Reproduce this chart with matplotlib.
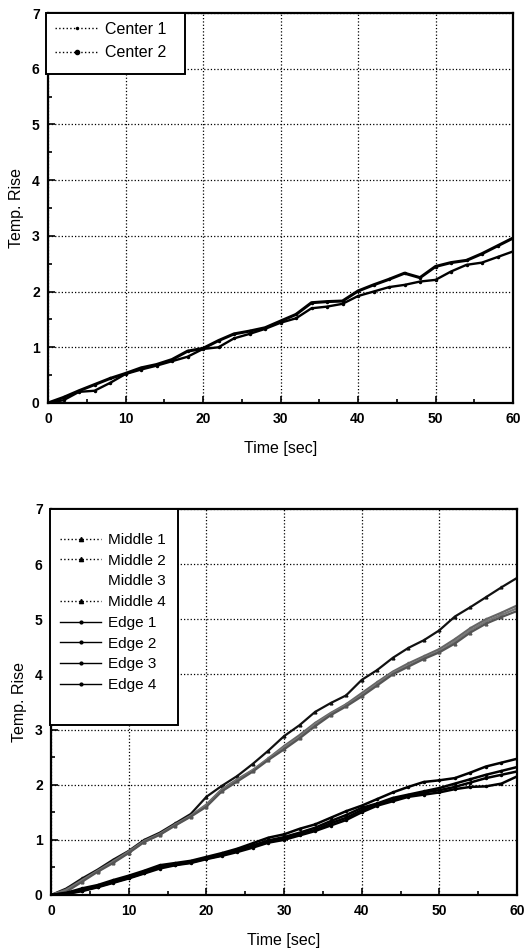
import numpy as np
import matplotlib
matplotlib.use("Agg")
import matplotlib.pyplot as plt
from matplotlib.lines import Line2D
from matplotlib.patches import Rectangle
from matplotlib.ticker import MultipleLocator

plt.rcParams['font.family'] = ['Liberation Sans', 'DejaVu Sans']

# time axis (sec)
t = np.arange(0, 61, 2)

# top chart: center points
center_1 = [0.00, 0.10, 0.22, 0.33, 0.44, 0.53, 0.63, 0.69, 0.78, 0.93, 0.98,
            1.12, 1.24, 1.29, 1.35, 1.47, 1.59, 1.80, 1.82, 1.83, 2.01,
            2.12, 2.22, 2.33, 2.25, 2.45, 2.52, 2.56, 2.68, 2.82, 2.96]
center_2 = [0.00, 0.05, 0.20, 0.22, 0.36, 0.52, 0.60, 0.67, 0.75, 0.83, 0.97,
            1.00, 1.16, 1.24, 1.33, 1.44, 1.52, 1.70, 1.73, 1.78, 1.92,
            2.00, 2.08, 2.12, 2.18, 2.21, 2.36, 2.48, 2.52, 2.62, 2.72]

# bottom chart: middle points
middle_1 = [0.00, 0.12, 0.30, 0.46, 0.64, 0.80, 1.00, 1.13, 1.30, 1.47, 1.78,
            1.98, 2.16, 2.38, 2.62, 2.88, 3.08, 3.32, 3.48, 3.62, 3.90,
            4.08, 4.30, 4.48, 4.62, 4.80, 5.05, 5.22, 5.40, 5.58, 5.75]
middle_2 = [0.00, 0.10, 0.27, 0.44, 0.61, 0.79, 0.98, 1.11, 1.28, 1.44, 1.64,
            1.92, 2.10, 2.27, 2.48, 2.70, 2.90, 3.12, 3.30, 3.46, 3.66,
            3.86, 4.05, 4.20, 4.33, 4.46, 4.64, 4.84, 5.00, 5.12, 5.25]
middle_3 = [0.00, 0.08, 0.26, 0.43, 0.60, 0.77, 0.97, 1.10, 1.27, 1.43, 1.62,
            1.90, 2.08, 2.26, 2.47, 2.68, 2.86, 3.10, 3.28, 3.44, 3.62,
            3.83, 4.03, 4.16, 4.30, 4.42, 4.60, 4.80, 4.96, 5.08, 5.20]
middle_4 = [0.00, 0.06, 0.24, 0.42, 0.58, 0.76, 0.96, 1.09, 1.26, 1.42, 1.60,
            1.88, 2.06, 2.24, 2.45, 2.64, 2.84, 3.06, 3.26, 3.42, 3.60,
            3.80, 4.00, 4.14, 4.28, 4.40, 4.56, 4.76, 4.92, 5.04, 5.15]

# bottom chart: edge points
edge_1 = [0.00, 0.04, 0.12, 0.18, 0.27, 0.35, 0.44, 0.54, 0.58, 0.62, 0.69,
          0.76, 0.84, 0.94, 1.04, 1.10, 1.20, 1.28, 1.40, 1.52, 1.62,
          1.74, 1.86, 1.96, 2.05, 2.08, 2.12, 2.22, 2.33, 2.40, 2.47]
edge_2 = [0.00, 0.03, 0.10, 0.16, 0.25, 0.33, 0.42, 0.52, 0.56, 0.60, 0.67,
          0.74, 0.81, 0.90, 0.99, 1.05, 1.13, 1.22, 1.34, 1.45, 1.58,
          1.66, 1.76, 1.82, 1.88, 1.94, 2.02, 2.10, 2.18, 2.25, 2.32]
edge_3 = [0.00, 0.02, 0.08, 0.15, 0.23, 0.31, 0.40, 0.50, 0.55, 0.59, 0.66,
          0.72, 0.80, 0.88, 0.96, 1.02, 1.10, 1.18, 1.30, 1.40, 1.54,
          1.64, 1.72, 1.80, 1.86, 1.90, 1.96, 2.04, 2.12, 2.18, 2.24]
edge_4 = [0.00, 0.02, 0.07, 0.14, 0.22, 0.30, 0.39, 0.48, 0.54, 0.58, 0.65,
          0.71, 0.78, 0.86, 0.95, 1.00, 1.08, 1.16, 1.26, 1.36, 1.50,
          1.62, 1.70, 1.78, 1.82, 1.86, 1.92, 1.96, 1.97, 2.02, 2.15]

x_ticks = [0, 10, 20, 30, 40, 50, 60]
y_ticks = [0, 1, 2, 3, 4, 5, 6, 7]

W, H = 524, 952


def px_box(x0, y0, x1, y1):
    # pixel box (from top-left) -> figure fraction [x, y, w, h]
    return [x0 / W, 1 - y1 / H, (x1 - x0) / W, (y1 - y0) / H]


def style_axes(ax):
    ax.set_xlim(0, 60)
    ax.set_ylim(0, 7)
    ax.set_xticks(x_ticks)
    ax.set_yticks(y_ticks)
    ax.xaxis.set_minor_locator(MultipleLocator(5))
    ax.yaxis.set_minor_locator(MultipleLocator(0.5))
    ax.tick_params(which='both', direction='in', width=1.2)
    ax.tick_params(which='major', length=5, labelsize=10)
    ax.tick_params(axis='x', which='major', pad=6.5)
    ax.tick_params(axis='y', which='major', pad=6)
    ax.tick_params(which='minor', length=3)
    for lab in ax.get_xticklabels() + ax.get_yticklabels():
        lab.set_fontweight('bold')
    ax.grid(True, which='major', ls=':', lw=0.9, color='black')
    for sp in ax.spines.values():
        sp.set_linewidth(1.6)
    ax.set_xlabel('Time [sec]', fontsize=11.5, labelpad=11)
    ax.set_ylabel('Temp. Rise', fontsize=11.5, labelpad=6)


def legend_box(fig, x0, y0, x1, y1):
    b = px_box(x0, y0, x1, y1)
    fig.patches.append(Rectangle((b[0], b[1]), b[2], b[3],
                                 transform=fig.transFigure, facecolor='white',
                                 edgecolor='black', lw=1.4, zorder=3))


fig = plt.figure(figsize=(W / 100, H / 100), dpi=100)

# ---- top chart ----
ax1 = fig.add_axes(px_box(48, 13, 513, 403))
ax1.plot(t, center_1, color='black', lw=2.2, marker='.', ms=3)
ax1.plot(t, center_2, color='black', lw=1.7, marker='.', ms=3)
style_axes(ax1)
legend_box(fig, 46, 13, 185, 74)
h_top = [Line2D([], [], color='black', ls=':', lw=1, marker='.', ms=3),
         Line2D([], [], color='black', ls=':', lw=1, marker='o', ms=3)]
leg1 = fig.legend(h_top, ['Center 1', 'Center 2'], loc='upper left',
                  bbox_to_anchor=(55 / W, 1 - 22 / H), fontsize=11.5,
                  frameon=False, borderaxespad=0, borderpad=0,
                  handlelength=2.7, handletextpad=0.45, labelspacing=0.52)
leg1.set_zorder(4)

# ---- bottom chart ----
ax2 = fig.add_axes(px_box(51, 509, 517, 895))
for ys, c in [(middle_1, '#111111'), (middle_2, '#666666'),
              (middle_3, '#777777'), (middle_4, '#555555')]:
    ax2.plot(t, ys, color=c, lw=1.6, marker='^', ms=2)
for ys in [edge_1, edge_2, edge_3, edge_4]:
    ax2.plot(t, ys, color='black', lw=1.8, marker='.', ms=3)
style_axes(ax2)
legend_box(fig, 50, 509, 178, 725)

h_mid = Line2D([], [], color='black', ls=':', lw=1, marker='^', ms=3)
h_blank = Line2D([], [], color='none', ls='none')
h_edge = Line2D([], [], color='black', ls='-', lw=1, marker='.', ms=4)
h_bot = [h_mid, h_mid, h_blank, h_mid, h_edge, h_edge, h_edge, h_edge]
labels_bot = ['Middle 1', 'Middle 2', 'Middle 3', 'Middle 4',
              'Edge 1', 'Edge 2', 'Edge 3', 'Edge 4']
leg2 = fig.legend(h_bot, labels_bot, loc='upper left',
                  bbox_to_anchor=(60 / W, 1 - 533 / H), fontsize=11,
                  frameon=False, borderaxespad=0, borderpad=0,
                  handlelength=2.7, handletextpad=0.45, labelspacing=0.44)
leg2.set_zorder(4)

fig.savefig('out.png', dpi=100)
